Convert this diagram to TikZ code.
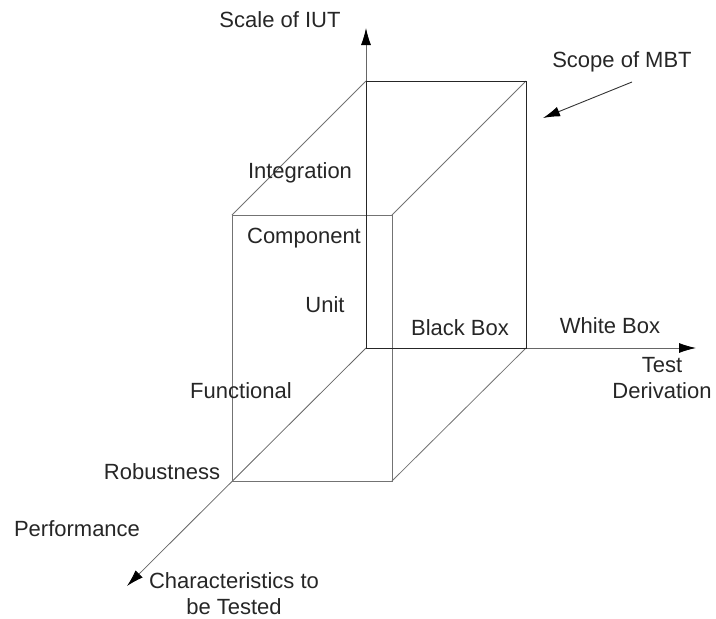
\documentclass[tikz,border=0pt]{standalone}
\usepackage{fontspec}
\setmainfont{Liberation Sans}
\usetikzlibrary{arrows.meta}
\begin{document}
\begin{tikzpicture}[x=1pt,y=-1pt,
  lbl/.style={inner sep=0pt, font=\fontsize{22}{26}\selectfont, text=black!85},
  backedge/.style={draw=black!85, line width=1pt},
  frontedge/.style={draw=black!55, line width=0.8pt},
  axisline/.style={draw=black!60, line width=0.8pt, -{Latex[length=17pt,width=10pt,color=black]}},
  pointer/.style={draw=black!80, line width=0.9pt, -{Latex[length=17pt,width=10pt,color=black]}}]
\useasboundingbox (0,0) rectangle (716,619);
% corner coordinates
\coordinate (O) at (366,348);
\coordinate (BTL) at (366,81);
\coordinate (BTR) at (526,81);
\coordinate (BBR) at (526,348);
\coordinate (FTL) at (232,215);
\coordinate (FTR) at (392,215);
\coordinate (FBR) at (392,481);
\coordinate (FBL) at (232,481);
\coordinate (Ytip) at (366,28);
\coordinate (Xtip) at (696,348);
\coordinate (Ztip) at (127,586);
\coordinate (Sfrom) at (632,82);
\coordinate (Sto) at (543,118);
% axes
\draw[axisline] (O) -- (Ytip);
\draw[axisline] (O) -- (Xtip);
\draw[axisline] (O) -- (Ztip);
% depth edges
\draw[frontedge] (BTL) -- (FTL);
\draw[frontedge] (BTR) -- (FTR);
\draw[frontedge] (BBR) -- (FBR);
% front face
\draw[frontedge] (FTL) -- (FTR) -- (FBR) -- (FBL) -- cycle;
% back face
\draw[backedge] (O) -- (BTL) -- (BTR) -- (BBR) -- cycle;
% pointer
\draw[pointer] (Sfrom) -- (Sto);
% labels
\node[lbl] (scale) at (280,20) {Scale of IUT};
\node[lbl] (scope) at (622,62) {Scope of MBT};
\node[lbl] (integ) at (300,173) {Integration};
\node[lbl] (comp) at (304,238) {Component};
\node[lbl] (unit) at (325,305) {Unit};
\node[lbl] (bb) at (460,328) {Black Box};
\node[lbl] (wb) at (610,326) {White Box};
\node[lbl] (test) at (662,365) {Test};
\node[lbl] (deriv) at (662,391) {Derivation};
\node[lbl] (func) at (241,391) {Functional};
\node[lbl] (rob) at (162,472) {Robustness};
\node[lbl] (perf) at (77,529) {Performance};
\node[lbl, align=center] (chars) at (234,594) {Characteristics to\\be Tested};
\end{tikzpicture}
\end{document}
